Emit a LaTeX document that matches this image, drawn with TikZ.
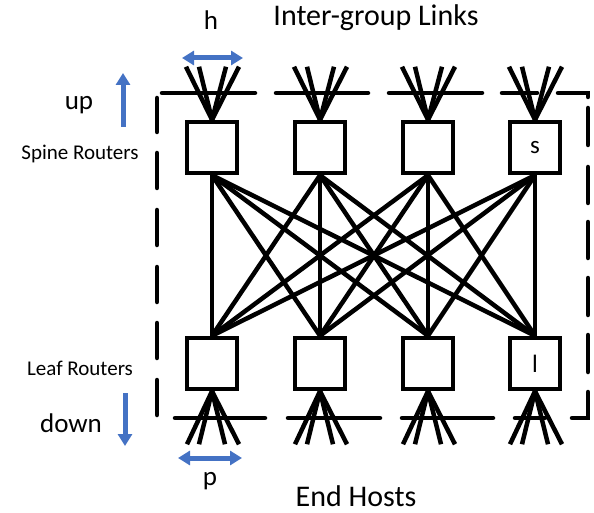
\documentclass[tikz,border=0pt]{standalone}
\usepackage{fontspec}
\setmainfont{Carlito}
\usetikzlibrary{arrows.meta,positioning}
\definecolor{linkblue}{RGB}{68,114,196}
\tikzset{
	router/.style={draw,rectangle,line width=4.5pt,minimum width=50pt,minimum height=51pt,inner sep=0pt},
	wire/.style={line width=4.5pt},
	fence/.style={line width=4.5pt,line cap=round},
	dir/.style={draw=linkblue,line width=5pt,-{Triangle[length=12pt,width=14pt]}},
	span/.style={draw=linkblue,line width=5pt,{Triangle[length=12pt,width=14pt]}-{Triangle[length=12pt,width=14pt]}},
	lbl/.style={anchor=base,inner sep=0pt},
	big/.style={font=\fontsize{30}{36}\selectfont},
	mid/.style={font=\fontsize{27}{32}\selectfont},
	small/.style={font=\fontsize{21}{25}\selectfont},
	tag/.style={font=\fontsize{25}{30}\selectfont}
}

\begin{document}
\begin{tikzpicture}[x=1pt,y=-1pt]
			\useasboundingbox (0,0) rectangle (594,513);

			% the group boundary
			\foreach \a/\b in {162/255,276/368,389/482,502/537}
				\draw[fence] (\a,93) -- (\b,93);
			\draw[fence] (558,93) -- (588,93) -- (588,97);
			\foreach \a/\b in {175/265,288/380,402/493,515/545}
				\draw[fence] (\a,418) -- (\b,418);
			\draw[fence] (572,418) -- (588,418) -- (588,392);
			\foreach \a/\b in {98/132,153/188,210/245,267/302,323/358,380/415}
				\draw[fence] (157,\a) -- (157,\b);
			\foreach \a/\b in {108/145,167/203,222/258,278/315,335/372}
				\draw[fence] (588,\a) -- (588,\b);

			% spine and leaf routers
			\node[router] (s1) at (212,147.5) {};
			\node[router] (s2) at (320,147.5) {};
			\node[router] (s3) at (428,147.5) {};
			\node[router,tag] (s4) at (535,147.5) {s};

			\node[router] (l1) at (212,363.5) {};
			\node[router] (l2) at (320,363.5) {};
			\node[router] (l3) at (428,363.5) {};
			\node[router,tag] (l4) at (535,363.5) {l};

			% full mesh between the two layers
			\foreach \i in {1,...,4}
				\foreach \j in {1,...,4}
					\draw[wire] (s\i.south) -- (l\j.north);

			% inter-group links and host links
			\foreach \i in {1,...,4}{
				\foreach \d in {-26,-13,14,27}{
					\path (s\i.north) ++(\d,-53) coordinate (up\i\d);
					\draw[wire] (s\i.north) -- (up\i\d);
				}
				\foreach \d in {-25,-13,13,27}{
					\path (l\i.south) ++(\d,53) coordinate (dn\i\d);
					\draw[wire] (l\i.south) -- (dn\i\d);
				}
			}

			% arrows
			\coordinate (hL) at (182,58);
			\coordinate (hR) at (243,58);
			\coordinate (pL) at (178,458);
			\coordinate (pR) at (242,458);
			\coordinate (upA) at (123,127);
			\coordinate (upB) at (123,73);
			\coordinate (dnA) at (125,393);
			\coordinate (dnB) at (125,446);
			\draw[span] (hL) -- (hR);
			\draw[span] (pL) -- (pR);
			\draw[dir] (upA) -- (upB);
			\draw[dir] (dnA) -- (dnB);

			% labels
			\node[lbl,big] (title) at (376,26) {Inter-group Links};
			\node[lbl,mid] (h) at (211,30) {h};
			\node[lbl,mid] (up) at (79,110) {up};
			\node[lbl,small] (spine) at (80,160) {Spine Routers};
			\node[lbl,small] (leaf) at (80,375) {Leaf Routers};
			\node[lbl,mid] (down) at (71,432) {down};
			\node[lbl,mid] (p) at (210,485) {p};
			\node[lbl,big] (hosts) at (356,506) {End Hosts};
		\end{tikzpicture}
\end{document}
